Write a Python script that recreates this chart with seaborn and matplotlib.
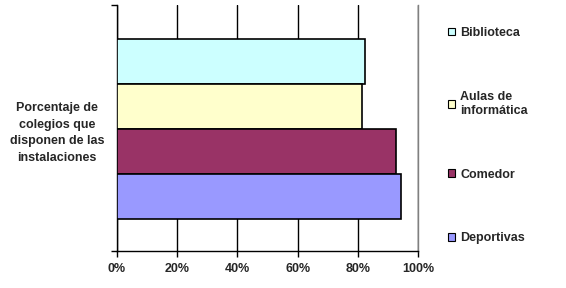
import matplotlib
matplotlib.use("Agg")
import matplotlib.pyplot as plt
import seaborn as sns
import pandas as pd
from matplotlib.patches import Patch

categoria = ["Porcentaje de\ncolegios que\ndisponen de las\ninstalaciones"]
series = ["Biblioteca", "Aulas de\ninformática", "Comedor", "Deportivas"]
valores = [82.4, 81.3, 92.6, 94.4]
colores = ["#CCFFFF", "#FFFFCC", "#993366", "#9999FF"]
xticks = [0, 20, 40, 60, 80, 100]
xticklabels = ["0%", "20%", "40%", "60%", "80%", "100%"]

df = pd.DataFrame({"cat": categoria * len(series), "serie": series, "valor": valores})

sns.set_theme(style="white")
plt.rcParams["font.family"] = ["Liberation Sans", "DejaVu Sans"]
plt.rcParams["font.weight"] = "bold"

fs = 9
fig = plt.figure(figsize=(5.66, 2.88), dpi=100)
ax = fig.add_axes([117 / 566, 1 - 251 / 288, (418 - 117) / 566, (251 - 5) / 288])

sns.barplot(data=df, x="valor", y="cat", hue="serie", hue_order=series,
            palette=colores, saturation=1, orient="h", width=0.8, edgecolor="black",
            linewidth=1.2, legend=False, ax=ax, zorder=3)

ax.set_xlim(0, 100)
ax.set_ylim(0.541, -0.552)
ax.set_xlabel("")
ax.set_ylabel("")

ax.set_xticks(xticks)
ax.set_xticklabels(xticklabels, fontsize=fs, fontweight="bold")
ax.tick_params(axis="x", length=4, width=1, color="black", pad=5, bottom=True)
ax.grid(axis="x", color="black", linewidth=1, zorder=0)
ax.grid(axis="y", visible=False)

ax.set_yticks([0])
ax.set_yticklabels(categoria, fontsize=fs, fontweight="bold", multialignment="center", linespacing=1.5)
ax.tick_params(axis="y", which="major", length=0, pad=9)
ax.set_yticks([0.541, -0.552], minor=True)
ax.tick_params(axis="y", which="minor", length=4, width=1, color="black", left=True)

for s in ["left", "bottom"]:
    ax.spines[s].set_color("black")
    ax.spines[s].set_linewidth(1)
ax.spines["top"].set_visible(False)
ax.spines["right"].set_color("#808080")
ax.spines["right"].set_linewidth(1)

handles = [Patch(facecolor=c, edgecolor="black", linewidth=0.8) for c in colores]
leg = fig.legend(handles, series, loc="upper left", bbox_to_anchor=(448 / 566, 1 - 27 / 288),
                 frameon=False, fontsize=fs, handlelength=0.55, handleheight=0.55,
                 handletextpad=0.45, labelspacing=4.15, borderpad=0, borderaxespad=0)
for t in leg.get_texts():
    t.set_fontweight("bold")

fig.savefig("out.png", dpi=100)
